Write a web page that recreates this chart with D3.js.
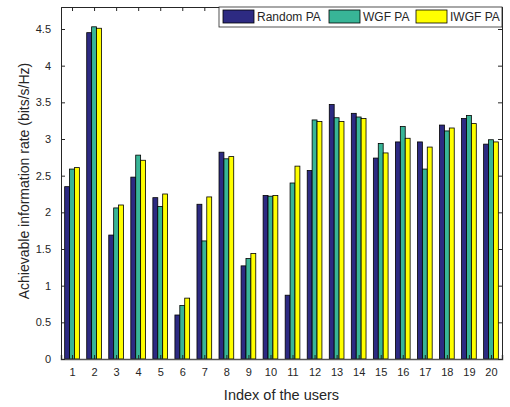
<!DOCTYPE html>
<html>
<head>
<meta charset="utf-8">
<script src="https://cdn.jsdelivr.net/npm/d3@7"></script>
<style>
  body { margin: 0; background: #fff; }
  text { font-family: "Liberation Sans", Arial, sans-serif; fill: #262626; }
</style>
</head>
<body>
<div id="chart"></div>
<script>
// user index 1..20
var users = d3.range(1, 21);
var seriesNames = ["Random PA", "WGF PA", "IWGF PA"];
var randomPA = [2.35, 4.45, 1.69, 2.48, 2.20, 0.60, 2.11, 2.82, 1.27, 2.23,
                0.87, 2.57, 3.47, 3.35, 2.74, 2.96, 2.96, 3.19, 3.28, 2.93];
var wgfPA    = [2.59, 4.53, 2.06, 2.78, 2.08, 0.73, 1.61, 2.73, 1.37, 2.22,
                2.40, 3.26, 3.29, 3.30, 2.94, 3.17, 2.59, 3.11, 3.32, 2.99];
var iwgfPA   = [2.61, 4.51, 2.10, 2.71, 2.25, 0.83, 2.21, 2.76, 1.44, 2.23,
                2.63, 3.24, 3.24, 3.28, 2.81, 3.01, 2.89, 3.15, 3.21, 2.96];
var yTicks = [0, 0.5, 1, 1.5, 2, 2.5, 3, 3.5, 4, 4.5];
var colors = ["#2d2a82", "#38b597", "#ffff00"];

var width = 510, height = 407;
var margin = {top: 7, right: 8, bottom: 48, left: 61};
var iw = width - margin.left - margin.right,
    ih = height - margin.top - margin.bottom;

var svg = d3.select("#chart").append("svg")
    .attr("width", width)
    .attr("height", height);

var g = svg.append("g")
    .attr("transform", "translate(" + margin.left + "," + margin.top + ")");

var x = d3.scaleLinear().domain([0.5, 20.5]).range([0, iw]);
var y = d3.scaleLinear().domain([0, 4.8]).range([ih, 0]);

var allSeries = [randomPA, wgfPA, iwgfPA];
var barW = 0.667 / 3;

// bars
allSeries.forEach(function(vals, s) {
  g.selectAll(".bar" + s)
    .data(vals)
    .enter()
    .append("rect")
    .attr("class", "bar" + s)
    .attr("x", function(d, i) { return x(users[i] - 0.3335 + s * barW); })
    .attr("y", function(d) { return y(d); })
    .attr("width", x(barW) - x(0))
    .attr("height", function(d) { return y(0) - y(d); })
    .attr("fill", colors[s])
    .attr("stroke", "#000")
    .attr("stroke-width", 0.8);
});

// axes (ticks point inward, box on)
var axisColor = "#262626";
var tl = 4;

var xAxis = g.append("g")
  .attr("transform", "translate(0," + ih + ")")
  .call(d3.axisBottom(x).tickValues(users).tickSize(-tl).tickPadding(9).tickFormat(d3.format("d")));
var xTop = g.append("g")
  .call(d3.axisTop(x).tickValues(users).tickSize(-tl).tickFormat(""));
var yAxis = g.append("g")
  .call(d3.axisLeft(y).tickValues(yTicks).tickSize(-tl).tickPadding(10).tickFormat(d3.format("")));
var yRight = g.append("g")
  .attr("transform", "translate(" + iw + ",0)")
  .call(d3.axisRight(y).tickValues(yTicks).tickSize(-tl).tickFormat(""));

[xAxis, xTop, yAxis, yRight].forEach(function(a) {
  a.select(".domain").attr("stroke", axisColor);
  a.selectAll(".tick line").attr("stroke", axisColor);
  a.selectAll("text").style("font-size", "11px").attr("fill", axisColor);
});
xAxis.select(".domain").attr("stroke", "#555").attr("stroke-width", 1.5);

// axis labels
svg.append("text")
  .attr("x", margin.left + iw / 2)
  .attr("y", 400)
  .attr("text-anchor", "middle")
  .style("font-size", "14.5px")
  .text("Index of the users");

svg.append("text")
  .attr("transform", "translate(29,181) rotate(-90)")
  .attr("text-anchor", "middle")
  .style("font-size", "14px")
  .text("Achievable information rate (bits/s/Hz)");

// legend
var lg = svg.append("g").attr("transform", "translate(219,7)");
lg.append("rect")
  .attr("width", 283)
  .attr("height", 20)
  .attr("fill", "#fff")
  .attr("stroke", axisColor)
  .attr("stroke-width", 0.8);

var legendX = [4, 110, 197];
seriesNames.forEach(function(name, s) {
  var item = lg.append("g").attr("transform", "translate(" + legendX[s] + ",3)");
  item.append("rect")
    .attr("width", 31)
    .attr("height", 13)
    .attr("fill", colors[s])
    .attr("stroke", "#000")
    .attr("stroke-width", 0.8);
  item.append("text")
    .attr("x", 34)
    .attr("y", 11)
    .style("font-size", "12px")
    .text(name);
});
</script>
</body>
</html>
